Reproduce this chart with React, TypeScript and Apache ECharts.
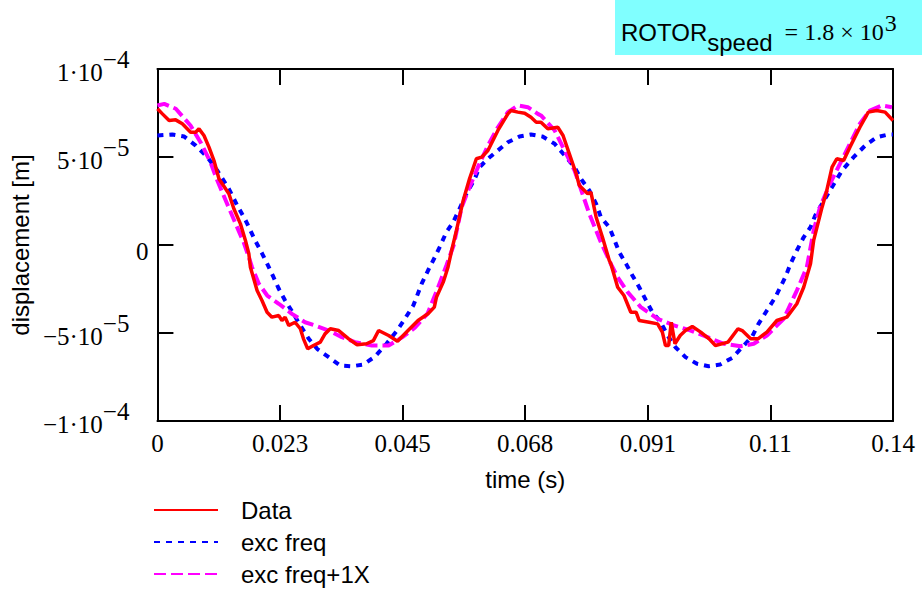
import React, { useEffect, useRef } from 'react';
import * as echarts from 'echarts';

// x tick labels (time, s) and y tick label parts (displacement, m)
const xTickLabels = ['0', '0.023', '0.045', '0.068', '0.091', '0.11', '0.14'];
const yTickBases = ['\u22121\u00b710', '\u22125\u00b710', '0', '5\u00b710', '1\u00b710'];
const yTickExps = ['\u22124', '\u22125', '', '\u22125', '\u22124'];

// [time (ms), displacement (µm)]
const dataSeries: [number, number][] = [
  [0, 77.4], [0.95, 74.5], [2.22, 70.7], [3.47, 71.1], [4.74, 68.9], [6.32, 64.1], [7.27, 64.1], [7.91, 66.0],
  [8.86, 62.2], [9.81, 55.6], [10.76, 48.0], [11.71, 37.6], [13.6, 29.1], [14.55, 20.6], [15.8, 12.0], [16.75, 2.6],
  [17.4, -5.0], [17.7, -12.6], [18.97, -25.9], [19.9, -31.5], [20.87, -38.2], [21.8, -41.0], [23.1, -40.1], [23.7, -42.9],
  [24.3, -41.0], [25.0, -45.7], [26.2, -43.9], [27.2, -47.6], [27.8, -53.3], [28.6, -59.0], [29.7, -57.1], [31.0, -55.2],
  [31.9, -50.5], [32.9, -47.6], [34.5, -48.6], [36.4, -53.3], [38.0, -56.7], [39.8, -56.1], [41.1, -54.3], [42.1, -48.6],
  [44.0, -51.4], [45.7, -54.7], [47.7, -48.6], [49.6, -42.9], [51.5, -39.1], [52.7, -35.3], [53.1, -29.7], [54.4, -21.1],
  [55.3, -12.6], [56.0, -3.1], [56.9, 8.2], [58.2, 25.3], [59.4, 37.6], [60.7, 49.0], [61.7, 49.9], [62.9, 53.7],
  [64.8, 65.1], [66.7, 74.5], [67.3, 76.4], [68.6, 75.5], [69.9, 74.9], [71.1, 72.6], [72.1, 69.8], [73.0, 69.8],
  [74.3, 66.0], [76.2, 66.9], [77.2, 62.2], [78.4, 51.8], [79.7, 40.5], [80.3, 33.8], [81.9, 29.1], [82.5, 30.0],
  [83.5, 15.8], [84.7, 4.4], [86.0, -8.8], [86.3, -10.7], [87.6, -24.0], [88.8, -28.7], [90.1, -38.2], [91.1, -38.2],
  [91.7, -42.9], [93.6, -43.9], [95.2, -44.8], [96.1, -49.5], [96.7, -57.1], [97.3, -57.1], [97.8, -43.9], [98.5, -56.1],
  [99.5, -51.4], [100.5, -48.6], [101.8, -46.3], [103.4, -49.5], [105.0, -53.3], [106.2, -57.1], [108.6, -55.2], [110.5, -47.6],
  [111.3, -48.6], [112.9, -53.3], [114.3, -53.3], [116.0, -49.5], [117.9, -42.9], [119.8, -41.0], [121.7, -33.4], [123.0, -24.0],
  [124.3, -10.7], [124.9, 2.6], [126.5, 21.5], [127.4, 31.0], [128.4, 44.2], [129.3, 49.0], [130.6, 48.0], [131.8, 55.6],
  [133.7, 66.9], [135.3, 75.5], [136.9, 76.4], [138.5, 75.5], [140.0, 70.7],
];

const excFreq: [number, number][] = [
  [0, 62.2], [2.8, 62.8], [5.1, 61.6], [7.3, 56.5], [9.5, 49.9], [11.4, 42.3], [13.6, 31.9], [15.2, 22.4], [16.8, 13.9],
  [18.6, 2.6], [19.9, -4.7], [20.9, -10.7], [22.1, -18.3], [23.1, -24.9], [24.3, -31.5], [25.9, -39.1], [27.2, -45.7],
  [28.8, -53.3], [30.4, -59.0], [32.6, -63.7], [34.8, -68.5], [37.0, -68.9], [39.2, -67.9], [41.4, -63.4], [43.6, -56.1],
  [45.6, -48.6], [47.1, -41.9], [48.7, -34.4], [50.3, -22.0], [51.5, -14.5], [52.8, -6.9], [53.7, -1.3], [55.0, 7.3],
  [56.3, 13.0], [57.5, 20.6], [58.8, 29.1], [60.4, 37.6], [61.3, 44.2], [62.9, 49.0], [64.8, 53.7], [66.7, 58.4],
  [68.9, 61.6], [71.1, 62.8], [73.3, 61.6], [75.6, 57.5], [77.5, 50.9], [79.4, 44.2], [80.6, 37.6], [82.2, 31.0],
  [83.5, 23.4], [84.4, 15.8], [86.0, 10.1], [86.9, 3.5], [87.9, -4.1], [89.2, -10.7], [90.4, -17.3], [91.7, -24.0],
  [93.0, -31.5], [94.2, -38.2], [95.8, -43.9], [97.1, -51.4], [98.6, -58.1], [100.5, -63.7], [102.7, -67.5], [104.9, -68.9],
  [107.1, -67.9], [109.4, -64.1], [111.3, -58.1], [113.2, -52.0], [114.4, -44.8], [116.0, -37.2], [117.6, -29.7],
  [119.5, -18.3], [120.5, -10.7], [121.7, -3.1], [123.0, 4.4], [124.3, 10.1], [125.2, 16.8], [126.5, 23.4], [128.0, 31.0],
  [130.3, 42.3], [132.5, 49.9], [134.7, 56.5], [136.9, 61.2], [139.1, 62.8], [140.0, 62.8],
];

const excFreq1X: [number, number][] = [
  [0, 79.3], [1.3, 80.2], [3.5, 77.4], [6.3, 67.9], [8.2, 58.4], [10.1, 47.0], [11.4, 36.6], [13.0, 25.3], [14.9, 12.0],
  [16.4, 1.6], [17.4, -6.9], [18.0, -12.6], [19.3, -22.0], [20.9, -28.7], [23.1, -33.4], [25.6, -39.1], [28.1, -43.9],
  [30.0, -45.7], [32.6, -48.6], [35.1, -52.4], [37.6, -55.2], [40.8, -57.1], [44.0, -57.1], [46.5, -52.6], [49.0, -47.0],
  [51.4, -39.0], [53.3, -25.0], [55.0, -11.6], [56.4, 0.0], [57.9, 21.5], [59.4, 32.8], [61.0, 44.2], [62.9, 56.5],
  [64.8, 66.9], [66.7, 75.5], [68.6, 79.3], [70.5, 78.3], [72.4, 74.5], [73.0, 73.6], [75.6, 65.1], [77.5, 53.7],
  [79.4, 42.3], [80.9, 29.1], [82.2, 17.7], [84.4, 1.6], [86.3, -10.7], [87.6, -18.3], [89.5, -26.8], [92.0, -35.3],
  [95.2, -41.9], [98.3, -45.7], [101.5, -48.6], [104.7, -52.4], [107.8, -56.1], [111.0, -57.5], [113.5, -56.1],
  [116.0, -51.4], [119.2, -41.9], [121.7, -25.9], [123.6, -12.6], [124.9, 8.2], [126.1, 21.5], [128.0, 34.8],
  [129.9, 46.1], [131.8, 57.5], [133.7, 68.9], [135.6, 76.4], [137.9, 79.3], [139.8, 78.3],
];

const seriesNames = ['Data', 'exc freq', 'exc freq+1X'];

const SANS = '"Liberation Sans", Arial, sans-serif';
const SERIF = '"Liberation Serif", "Times New Roman", serif';

const X_MIN = 0;
const X_MAX = 0.14;
const X_INT = 0.14 / 6;
const Y_INT = 5e-5;

const toSI = (pts: [number, number][]) => pts.map(([t, v]) => [t / 1000, v * 1e-6]);

export default function App() {
  const ref = useRef<HTMLDivElement>(null);

  useEffect(() => {
    if (!ref.current) return;
    const chart = echarts.init(ref.current, null, { renderer: 'svg' });

    const axisLine = { show: true, onZero: false, lineStyle: { color: '#000', width: 2 } };
    const axisTick = { show: true, inside: true, length: 16, lineStyle: { color: '#000', width: 2 } };

    const tok = (family: string, size: number, padding: number[], lineHeight = 24) => ({
      fontFamily: family, fontSize: size, fontWeight: 'normal', color: '#000', lineHeight, padding, verticalAlign: 'top',
    });

    const yRich = {
      b: tok(SERIF, 25, [13, 0, 0, 0], 24),
      p: tok(SERIF, 25, [0, 19, 0, 0], 44),
      z: tok(SERIF, 25, [6, 0, 0, 0], 24),
    };

    const option: any = {
      animation: false,
      backgroundColor: '#fff',
      graphic: [
        { type: 'rect', shape: { x: 615, y: 0, width: 307, height: 55 }, style: { fill: '#80FFFF' }, z: 0 },
      ],
      title: {
        text: '{r|ROTOR}{s|speed}{e|= 1.8 \u00d7 10}{p|3}',
        left: 621,
        top: 0,
        padding: 0,
        z: 10,
        textStyle: {
          fontWeight: 'normal',
          rich: {
            r: tok(SANS, 24, [20, 0, 11, 0]),
            s: tok(SANS, 24, [30, 0, 1, 0]),
            e: tok(SERIF, 24, [20, 0, 11, 12]),
            p: tok(SERIF, 24, [11, 0, 20, 1]),
          },
        },
      },
      legend: {
        orient: 'vertical',
        left: 153,
        top: 494,
        padding: 0,
        itemWidth: 64,
        itemHeight: 12,
        itemGap: 0,
        data: seriesNames,
        itemStyle: { opacity: 0 },
        textStyle: { fontFamily: SANS, fontSize: 24, color: '#000', lineHeight: 26, padding: [6, 0, 0, 18] },
      },
      grid: { left: 155, right: 29, top: 69, bottom: 173, containLabel: false },
      xAxis: [
        {
          type: 'value', position: 'bottom', min: X_MIN, max: X_MAX, interval: X_INT,
          axisLine, axisTick, splitLine: { show: false },
          axisLabel: {
            margin: 10, fontFamily: SERIF, fontSize: 25, color: '#000',
            formatter: (v: number) => xTickLabels[Math.round(v / X_INT)] ?? '',
          },
          name: 'time (s)', nameLocation: 'middle', nameGap: 46,
          nameTextStyle: { fontFamily: SANS, fontSize: 24, color: '#000' },
        },
        {
          type: 'value', position: 'top', min: X_MIN, max: X_MAX, interval: X_INT,
          axisLine, axisTick, splitLine: { show: false }, axisLabel: { show: false },
        },
      ],
      yAxis: [
        {
          type: 'value', position: 'left', min: -1e-4, max: 1e-4, interval: Y_INT,
          axisLine, axisTick, splitLine: { show: false },
          axisLabel: {
            margin: 9,
            formatter: (v: number) => {
              const i = Math.round(v / Y_INT) + 2;
              return yTickExps[i] ? `{b|${yTickBases[i]}}{p|${yTickExps[i]}}` : `{z|${yTickBases[i]}}`;
            },
            rich: yRich,
          },
          name: 'displacement [m]', nameLocation: 'middle', nameGap: 116, nameRotate: 90,
          nameTextStyle: { fontFamily: SANS, fontSize: 24, color: '#000' },
        },
        {
          type: 'value', position: 'right', min: -1e-4, max: 1e-4, interval: Y_INT,
          axisLine, axisTick, splitLine: { show: false }, axisLabel: { show: false },
        },
      ],
      series: [
        {
          name: seriesNames[0], type: 'line', data: toSI(dataSeries), symbol: 'none', showSymbol: false,
          lineStyle: { color: '#FF0000', width: 3.5 }, itemStyle: { color: '#FF0000' }, z: 3,
        },
        {
          name: seriesNames[1], type: 'line', data: toSI(excFreq), symbol: 'none', showSymbol: false,
          lineStyle: { color: '#0000FF', width: 4, type: [6, 6], cap: 'butt' }, itemStyle: { color: '#0000FF' }, z: 2,
        },
        {
          name: seriesNames[2], type: 'line', data: toSI(excFreq1X), symbol: 'none', showSymbol: false,
          lineStyle: { color: '#FF00FF', width: 4, type: [12, 5], cap: 'butt' }, itemStyle: { color: '#FF00FF' }, z: 2,
        },
      ],
    };

    chart.setOption(option);
    return () => chart.dispose();
  }, []);

  return <div ref={ref} style={{ position: 'absolute', left: 0, top: 0, width: 922, height: 594 }} />;
}
